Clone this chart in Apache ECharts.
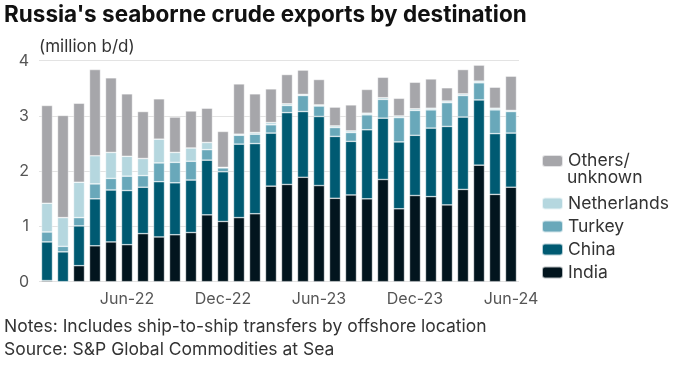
<!DOCTYPE html>
<html>
<head>
<meta charset="utf-8">
<script src="https://cdn.jsdelivr.net/npm/echarts@6/dist/echarts.min.js"></script>
<style>
html,body{margin:0;padding:0;background:#fff;}
#chart{width:682px;height:371px;}
</style>
</head>
<body>
<div id="chart"></div>
<script>
var months = ['Jan-22','Feb-22','Mar-22','Apr-22','May-22','Jun-22','Jul-22','Aug-22','Sep-22','Oct-22','Nov-22','Dec-22',
  'Jan-23','Feb-23','Mar-23','Apr-23','May-23','Jun-23','Jul-23','Aug-23','Sep-23','Oct-23','Nov-23','Dec-23',
  'Jan-24','Feb-24','Mar-24','Apr-24','May-24','Jun-24'];
var shownLabels = ['Jun-22','Dec-22','Jun-23','Dec-23','Jun-24'];
var india = [0.02,0,0.29,0.65,0.72,0.67,0.87,0.81,0.85,0.89,1.21,1.09,1.16,1.23,1.73,1.76,1.89,1.74,1.51,1.57,1.50,1.85,1.32,1.56,1.54,1.39,1.67,2.11,1.58,1.71];
var china = [0.70,0.54,0.72,0.85,0.94,0.98,0.84,1.00,0.94,0.95,0.99,0.90,1.33,1.27,0.96,1.30,1.19,1.25,1.12,0.97,1.25,1.11,1.21,1.09,1.24,1.42,1.31,1.18,1.10,0.98];
var turkey = [0.18,0.10,0.15,0.27,0.21,0.26,0.21,0.34,0.37,0.34,0.19,0.07,0.16,0.17,0.15,0.13,0.29,0.19,0.16,0.16,0.27,0.34,0.44,0.45,0.33,0.43,0.39,0.31,0.43,0.39];
var netherlands = [0.52,0.52,0.64,0.51,0.47,0.36,0.31,0.43,0.18,0.24,0.13,0.01,0.02,0.03,0.04,0.03,0.02,0.02,0.03,0.03,0.03,0.03,0.03,0.03,0.03,0.03,0.03,0.03,0.03,0.02];
var others = [1.77,1.85,1.43,1.56,1.35,1.13,0.85,0.73,0.64,0.67,0.62,0.65,0.91,0.70,0.61,0.53,0.44,0.46,0.34,0.47,0.43,0.37,0.32,0.48,0.53,0.24,0.44,0.29,0.38,0.62];
var yTicks = [0,1,2,3,4];

var FONT = 'Inter';
var colors = {India:'#02151e', China:'#005a72', Turkey:'#69a8ba', Netherlands:'#b5d7df', 'Others/unknown':'#a6a6aa'};

function mk(name, data){
  return {name:name, type:'bar', stack:'all', data:data, barWidth:11,
    itemStyle:{color:colors[name], borderColor:'rgba(255,255,255,0.7)', borderWidth:0.6},
    emphasis:{disabled:true}};
}

var chart = echarts.init(document.getElementById('chart'), null, {renderer:'canvas'});
chart.setOption({
  animation:false,
  textStyle:{fontFamily:FONT},
  grid:{left:39, top:60.7, width:480, height:221, containLabel:false},
  xAxis:{type:'category', data:months,
    axisLine:{show:false}, axisTick:{show:false},
    axisLabel:{interval:0, color:'#555', fontSize:16, fontFamily:FONT, margin:9,
      formatter:function(v){return shownLabels.indexOf(v)>=0 ? v : '';}}},
  yAxis:{type:'value', min:yTicks[0], max:yTicks[yTicks.length-1], interval:1,
    axisLine:{show:false}, axisTick:{show:false},
    splitLine:{lineStyle:{color:'#e3e3e3', width:1}},
    axisLabel:{color:'#555', fontSize:16, fontFamily:FONT, margin:10}},
  legend:[
    {orient:'vertical', left:541, top:152, padding:0, itemWidth:21, itemHeight:12, itemGap:5,
     data:['Others/unknown'], formatter:function(){return 'Others/';},
     textStyle:{fontSize:17.5, color:'#333', fontFamily:FONT, lineHeight:18}, selectedMode:false},
    {orient:'vertical', left:541, top:194.5, padding:0, itemWidth:21, itemHeight:12, itemGap:5,
     data:['Netherlands','Turkey','China','India'],
     textStyle:{fontSize:17.5, color:'#333', fontFamily:FONT, lineHeight:18}, selectedMode:false}
  ],
  graphic:[
    {type:'text', left:4, top:4, style:{text:"Russia's seaborne crude exports by destination", font:'bold 22.5px '+FONT, fill:'#111'}},
    {type:'text', left:39, top:38.5, style:{text:'(million b/d)', font:'17px '+FONT, fill:'#333'}},
    {type:'text', left:567, top:169, style:{text:'unknown', font:'17.5px '+FONT, fill:'#333'}},
    {type:'text', left:4, top:318, style:{text:'Notes: Includes ship-to-ship transfers by offshore location', font:'17.5px '+FONT, fill:'#333'}},
    {type:'text', left:4, top:341, style:{text:'Source: S&P Global Commodities at Sea', font:'17.5px '+FONT, fill:'#333'}}
  ],
  series:[
    mk('India', india), mk('China', china), mk('Turkey', turkey), mk('Netherlands', netherlands), mk('Others/unknown', others)
  ]
});
</script>
</body>
</html>
